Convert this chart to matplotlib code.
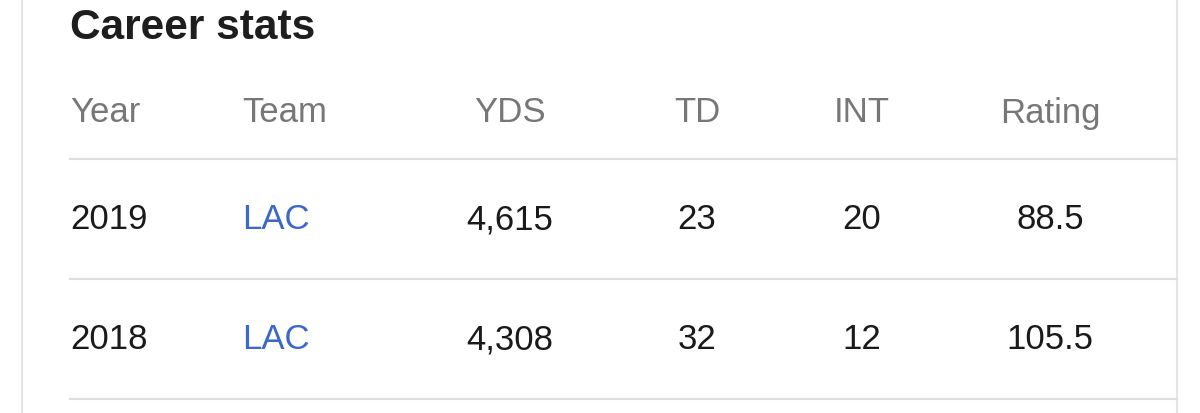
import matplotlib.pyplot as plt
from matplotlib.lines import Line2D

W, H = 1200, 414

headers = ['Year', 'Team', 'YDS', 'TD', 'INT', 'Rating']
years = ['2019', '2018']
teams = ['LAC', 'LAC']
yds = ['4,615', '4,308']
tds = ['23', '32']
ints = ['20', '12']
ratings = ['88.5', '105.5']

plt.rcParams['font.family'] = ['Liberation Sans', 'DejaVu Sans']
fig = plt.figure(figsize=(W / 100, H / 100), dpi=100)
fig.patch.set_facecolor('white')

def px(x, y):
    return x / W, 1 - y / H

# card borders
for xx in (22, 1177):
    fig.add_artist(Line2D([xx / W] * 2, [0, 1], color='#e4e4e4', lw=1.5))
for yy in (160, 280, 400):
    fig.add_artist(Line2D([70 / W, 1177 / W], [1 - yy / H] * 2, color='#dedede', lw=1.5))

fig.text(*px(70, 28), 'Career stats', fontsize=30.5, fontweight='bold',
         color='#1e1e1e', va='center', ha='left')

# column x positions and alignment
cols = [(70, 'left'), (242, 'left'), (510, 'center'), (697, 'center'),
        (862, 'center'), (1050, 'center')]

for (x, ha), h in zip(cols, headers):
    fig.text(*px(x, 113), h, fontsize=25, color='#777777', va='center', ha=ha)

rows = list(zip(years, teams, yds, tds, ints, ratings))
for ry, row in zip((220, 340), rows):
    for i, ((x, ha), val) in enumerate(zip(cols, row)):
        color = '#3b68c9' if i == 1 else '#1a1a1a'
        fig.text(*px(x, ry), val, fontsize=25, color=color, va='center', ha=ha)

fig.savefig('out.png', dpi=100, facecolor='white')
